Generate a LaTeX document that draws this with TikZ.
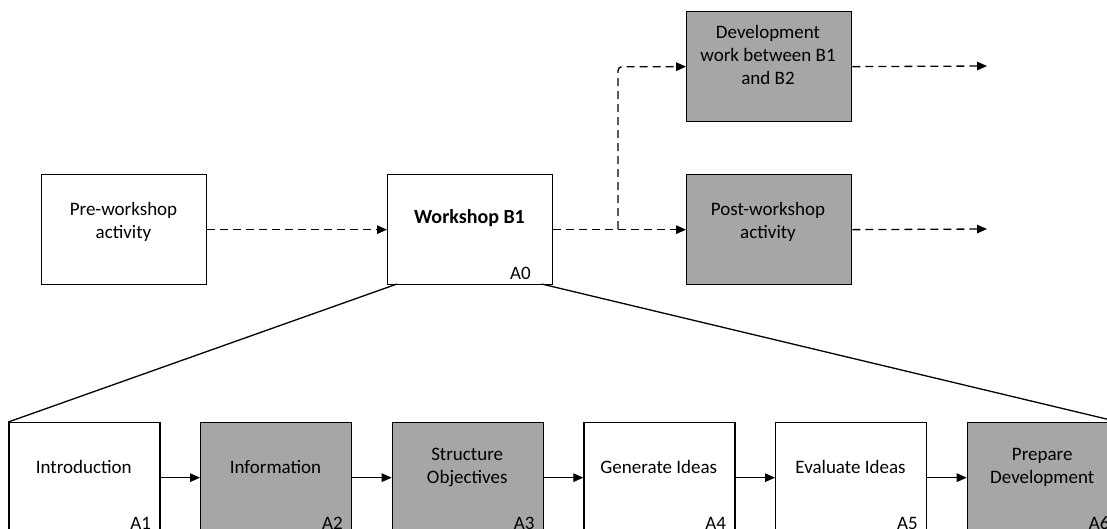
\documentclass[tikz,border=0pt]{standalone}
\usepackage{fontspec}
\setmainfont{Carlito}
\usetikzlibrary{arrows.meta}
\definecolor{boxgray}{RGB}{166,166,166}
\begin{document}
\begin{tikzpicture}[x=1pt,y=-1pt,
  box/.style={draw=black, line width=1.3pt, rectangle, inner sep=0pt, anchor=north west},
  topbox/.style={box, minimum width=165pt, minimum height=110pt},
  lowbox/.style={box, minimum width=151pt, minimum height=110pt},
  shaded/.style={fill=boxgray},
  plain/.style={fill=white},
  txt/.style={font=\fontsize{19}{23}\selectfont, align=center, inner sep=0pt},
  code/.style={font=\fontsize{19}{22}\selectfont, inner sep=0pt, anchor=base east},
  flow/.style={line width=1.3pt, -{Triangle[length=10pt,width=8.5pt]}},
  dashflow/.style={flow, dash pattern=on 8pt off 5pt},
  fan/.style={line width=1.3pt}
]
\clip (0,0) rectangle (1107,528);

% upper level
\node[topbox,plain]  (pre)  at (41,174) {};
\node[topbox,plain]  (ws)   at (387,174) {};
\node[topbox,shaded] (dev)  at (686,11) {};
\node[topbox,shaded] (post) at (686,174) {};

\node[txt] (preT)  at (123.5,222) {Pre-workshop\\activity};
\node[txt,font=\fontsize{20}{23}\selectfont\bfseries] (wsT) at (469.5,218) {Workshop B1};
\node[code] (wsC) at (531,279) {A0};
\node[txt] (devT)  at (768,55) {Development\\work between B1\\and B2};
\node[txt] (postT) at (768,222) {Post-workshop\\activity};

% lower level (decomposition of A0)
\node[lowbox,plain]  (b1) at (8.3,422)   {};
\node[lowbox,shaded] (b2) at (200,422)   {};
\node[lowbox,shaded] (b3) at (391.7,422) {};
\node[lowbox,plain]  (b4) at (583.3,422) {};
\node[lowbox,plain]  (b5) at (775,422)   {};
\node[lowbox,shaded] (b6) at (966.7,422) {};

\node[txt] (b1T) at (83.8,467)  {Introduction};
\node[txt] (b2T) at (275.5,467) {Information};
\node[txt] (b3T) at (467.2,467) {Structure\\Objectives};
\node[txt] (b4T) at (658.8,467) {Generate Ideas};
\node[txt] (b5T) at (850.5,467) {Evaluate Ideas};
\node[txt] (b6T) at (1042.2,467) {Prepare\\Development};

\node[code] (b1C) at (151.3,529.5)  {A1};
\node[code] (b2C) at (343,529.5)    {A2};
\node[code] (b3C) at (534.7,529.5)  {A3};
\node[code] (b4C) at (726.3,529.5)  {A4};
\node[code] (b5C) at (918,529.5)    {A5};
\node[code] (b6C) at (1109.7,529.5) {A6};

% flows of the upper level
\coordinate (split)   at (618,229);
\coordinate (devOut)  at (987,66);
\coordinate (postOut) at (987,229);
\draw[dashflow] (pre.east) -- (ws.west);
\draw[dashflow] (ws.east) -- (post.west);
\draw[dashflow, rounded corners=4pt] (split) |- (dev.west);
\draw[dashflow] (dev.east) -- (devOut);
\draw[dashflow] (post.east) -- (postOut);

% flows of the lower level
\draw[flow] (b1.east) -- (b2.west);
\draw[flow] (b2.east) -- (b3.west);
\draw[flow] (b3.east) -- (b4.west);
\draw[flow] (b4.east) -- (b5.west);
\draw[flow] (b5.east) -- (b6.west);

% decomposition fan
\coordinate (wsL) at (397,284);
\coordinate (wsR) at (541.7,284);
\draw[fan] (wsL) -- (b1.north west);
\draw[fan] (wsR) -- (b6.north east);
\end{tikzpicture}
\end{document}
